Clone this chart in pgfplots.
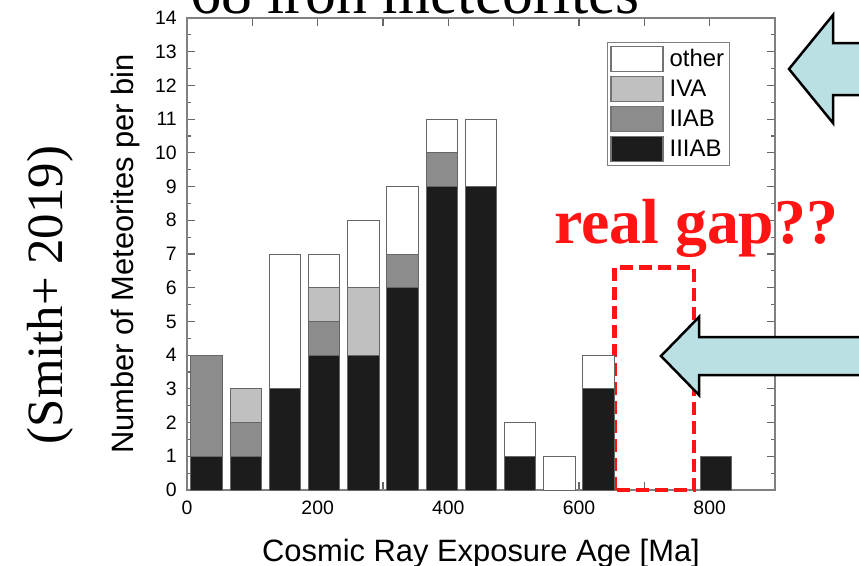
\documentclass[border=0pt]{standalone}
\usepackage{fontspec}
\usepackage{pgfplots}
\usepackage{pgfplotstable}
\pgfplotsset{compat=1.18}
\setmainfont{Liberation Sans}
\newfontfamily\timesfont{Liberation Serif}

\definecolor{cIIIAB}{HTML}{1C1C1C}
\definecolor{cIIAB}{HTML}{8C8C8C}
\definecolor{cIVA}{HTML}{C0C0C0}
\definecolor{arrowfill}{RGB}{186,224,228}
\definecolor{gapred}{HTML}{FF1414}

% counts per 60 Ma bin (bin centres), stacked by group
\pgfplotstableread{
age IIIAB IIAB IVA other
30  1 3 0 0
90  1 1 1 0
150 3 0 0 4
210 4 1 1 1
270 4 0 2 2
330 6 1 0 2
390 9 1 0 1
450 9 0 0 2
510 1 0 0 1
570 0 0 0 1
630 3 0 0 1
810 1 0 0 0
}\crex

\pgfplotsset{
  boxlegend/.style={legend image code/.code={%
    \draw[##1, draw=black!55, line width=1.2bp] (0bp,-12.5bp) rectangle (52bp,12.5bp);}},
}

\begin{document}
\begin{tikzpicture}
\useasboundingbox (0bp,0bp) rectangle (859bp,-566bp);

\begin{axis}[
  at={(187bp,-490bp)}, anchor=south west,
  scale only axis, width=588bp, height=472bp,
  xmin=0, xmax=900, ymin=0, ymax=14,
  ybar stacked, bar width=48,
  clip=false,
  axis line style={draw=black!50, line width=1.5bp},
  tick align=inside,
  tick style={draw=black!60, line width=1.2bp},
  major tick length=8bp, minor tick length=4bp,
  xtick={0,100,...,900},
  xticklabels={0,,200,,400,,600,,800,},
  ytick={0,1,...,14},
  minor y tick num=1,
  /pgf/number format/assume math mode=true,
  xticklabel style={font=\fontsize{19.5}{20}\selectfont, anchor=base, inner sep=0pt, yshift=-24bp},
  yticklabel style={font=\fontsize{19.5}{20}\selectfont, anchor=east, inner sep=0pt, xshift=-10bp},
  xlabel={Cosmic Ray Exposure Age [Ma]},
  ylabel={Number of Meteorites per bin},
  label style={font=\fontsize{31}{31}\selectfont},
  xlabel style={at={(axis description cs:0.5,-0.1504)}, anchor=base, inner sep=0pt},
  ylabel style={at={(axis description cs:-0.0918,0.5)}, anchor=base, inner sep=0pt},
  legend style={at={(axis description cs:0.714,0.949)}, anchor=north west,
    draw=black!50, line width=1.2bp, inner sep=3bp, row sep=4bp, column sep=4bp,
    font=\fontsize{24}{24}\selectfont},
  legend cell align=left,
  reverse legend,
]
\addplot[boxlegend, fill=cIIIAB, draw=black!60, line width=1bp] table[x=age, y=IIIAB] {\crex};
\addplot[boxlegend, fill=cIIAB, draw=black!60, line width=1bp] table[x=age, y=IIAB] {\crex};
\addplot[boxlegend, fill=cIVA, draw=black!60, line width=1bp] table[x=age, y=IVA] {\crex};
\addplot[boxlegend, fill=white, draw=black!60, line width=1bp] table[x=age, y=other] {\crex};
\legend{IIIAB, IIAB, IVA, other}

% the empty range in question
\draw[gapred, line width=4.5bp, dash pattern=on 13bp off 6bp]
  (axis cs:654,0) rectangle (axis cs:776,6.6);
\end{axis}

\begin{scope}[x=1bp, y=-1bp]
% title of the slide
\node[font=\timesfont\fontsize{62}{62}\selectfont, anchor=base west, inner sep=0]
  at (190,13) {68 iron meteorites};

% reference
\node[font=\timesfont\fontsize{51}{51}\selectfont, anchor=base, rotate=90, inner sep=0]
  at (62,295) {(Smith+ 2019)};

% annotation
\node[font=\timesfont\bfseries\fontsize{64}{64}\selectfont, text=gapred, anchor=base west, inner sep=0]
  at (554,243) {real gap??};

% pointer arrows
\draw[fill=arrowfill, line width=2.5bp, line join=miter]
  (789,69) -- (833,15) -- (833,43) -- (900,43) -- (900,95) -- (833,95) -- (833,123) -- cycle;
\draw[fill=arrowfill, line width=2.5bp, line join=miter]
  (661,356) -- (699,317) -- (699,337) -- (900,337) -- (900,375) -- (699,375) -- (699,395) -- cycle;
\end{scope}
\end{tikzpicture}
\end{document}
